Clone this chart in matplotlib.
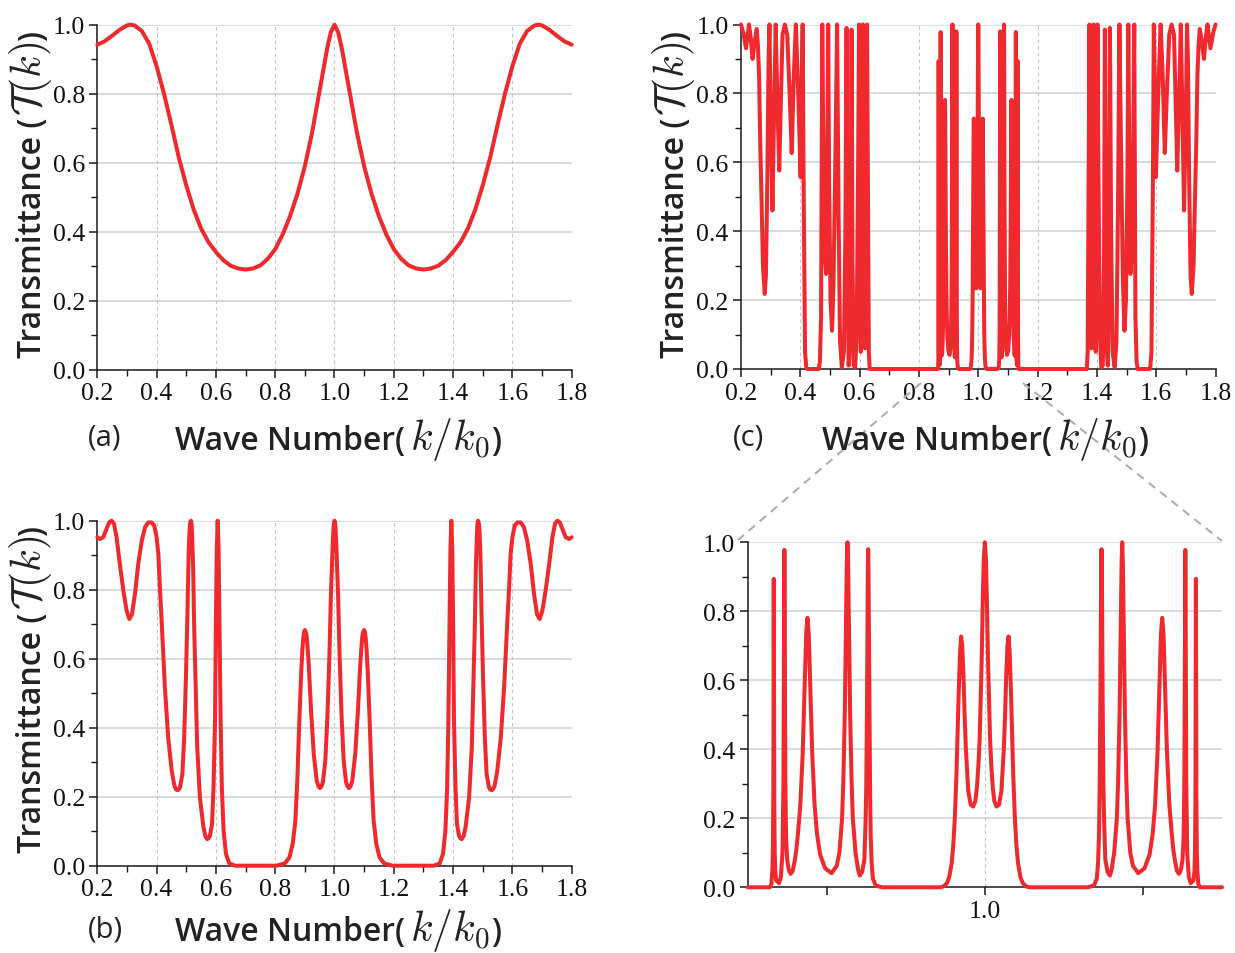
import matplotlib
matplotlib.use("Agg")
import matplotlib.pyplot as plt
from matplotlib.lines import Line2D
from matplotlib.ticker import FormatStrFormatter

plt.rcParams["mathtext.fontset"] = "cm"

# ---------------------------------------------------------------- data
# (a) single unit cell: (k/k0, T)
cell_a = [(0.200, 0.942), (0.225, 0.952), (0.250, 0.968), (0.275, 0.985), (0.300, 0.998),
          (0.310, 1.000), (0.325, 0.998), (0.350, 0.982), (0.375, 0.945), (0.400, 0.880),
          (0.425, 0.800), (0.450, 0.710), (0.475, 0.615), (0.500, 0.535), (0.525, 0.465),
          (0.550, 0.410), (0.575, 0.370), (0.600, 0.342), (0.625, 0.318), (0.650, 0.302),
          (0.675, 0.294), (0.700, 0.291), (0.725, 0.294), (0.750, 0.303), (0.775, 0.322),
          (0.800, 0.350), (0.825, 0.392), (0.850, 0.445), (0.875, 0.510), (0.900, 0.590),
          (0.925, 0.690), (0.950, 0.810), (0.975, 0.930), (0.9875, 0.978), (1.000, 1.000),
          (1.0125, 0.978), (1.025, 0.930), (1.050, 0.810), (1.075, 0.690), (1.100, 0.590),
          (1.125, 0.510), (1.150, 0.445), (1.175, 0.392), (1.200, 0.350), (1.225, 0.322),
          (1.250, 0.303), (1.275, 0.294), (1.300, 0.291), (1.325, 0.294), (1.350, 0.302),
          (1.375, 0.318), (1.400, 0.342), (1.425, 0.370), (1.450, 0.410), (1.475, 0.465),
          (1.500, 0.535), (1.525, 0.615), (1.550, 0.710), (1.575, 0.800), (1.600, 0.880),
          (1.625, 0.945), (1.650, 0.982), (1.675, 0.998), (1.690, 1.000), (1.700, 0.998),
          (1.725, 0.985), (1.750, 0.968), (1.775, 0.952), (1.800, 0.942)]

# (b) intermediate stack
stack_b = [(0.200, 0.952), (0.209, 0.947), (0.220, 0.952), (0.231, 0.976), (0.240, 0.995),
           (0.248, 1.000), (0.256, 0.992), (0.265, 0.952), (0.276, 0.874), (0.288, 0.797),
           (0.299, 0.739), (0.308, 0.715), (0.317, 0.729), (0.327, 0.787), (0.338, 0.874),
           (0.350, 0.942), (0.361, 0.981), (0.372, 0.995), (0.383, 0.995), (0.392, 0.986),
           (0.400, 0.952), (0.406, 0.903), (0.411, 0.807), (0.417, 0.710), (0.428, 0.517),
           (0.439, 0.372), (0.451, 0.275), (0.460, 0.232), (0.465, 0.222), (0.470, 0.219),
           (0.475, 0.221), (0.479, 0.227), (0.487, 0.266), (0.493, 0.372), (0.499, 0.546),
           (0.504, 0.729), (0.508, 0.903), (0.511, 0.970), (0.513, 0.992), (0.516, 1.000),
           (0.518, 0.990), (0.520, 0.950), (0.523, 0.874), (0.527, 0.681), (0.532, 0.507),
           (0.537, 0.343), (0.546, 0.198), (0.558, 0.111), (0.565, 0.085), (0.571, 0.077),
           (0.576, 0.080), (0.580, 0.087), (0.587, 0.121), (0.592, 0.227), (0.597, 0.420),
           (0.600, 0.710), (0.603, 0.920), (0.606, 1.000), (0.609, 0.920), (0.612, 0.710),
           (0.616, 0.420), (0.620, 0.227), (0.626, 0.101), (0.634, 0.034), (0.645, 0.007),
           (0.664, 0.000), (0.805, 0.000), (0.833, 0.007), (0.848, 0.024), (0.859, 0.063),
           (0.868, 0.130), (0.875, 0.256), (0.881, 0.411), (0.888, 0.565), (0.892, 0.630),
           (0.895, 0.662), (0.8975, 0.678), (0.900, 0.683), (0.903, 0.678), (0.906, 0.667),
           (0.909, 0.635), (0.913, 0.585), (0.921, 0.449), (0.930, 0.324), (0.940, 0.246),
           (0.946, 0.230), (0.951, 0.225), (0.956, 0.230), (0.961, 0.242), (0.969, 0.304),
           (0.976, 0.430), (0.983, 0.613), (0.988, 0.787), (0.994, 0.932), (0.997, 0.985),
           (1.000, 1.000),
           (1.003, 0.985), (1.006, 0.932), (1.012, 0.787), (1.017, 0.613), (1.024, 0.430),
           (1.031, 0.304), (1.039, 0.242), (1.044, 0.230), (1.049, 0.225), (1.054, 0.230),
           (1.060, 0.246), (1.070, 0.324), (1.079, 0.449), (1.087, 0.585), (1.091, 0.635),
           (1.094, 0.667), (1.097, 0.678), (1.100, 0.683), (1.1025, 0.678), (1.105, 0.662),
           (1.108, 0.630), (1.112, 0.565), (1.119, 0.411), (1.125, 0.256), (1.132, 0.130),
           (1.141, 0.063), (1.152, 0.024), (1.167, 0.007), (1.195, 0.000), (1.336, 0.000),
           (1.355, 0.007), (1.366, 0.034), (1.374, 0.101), (1.380, 0.227), (1.384, 0.420),
           (1.388, 0.710), (1.391, 0.920), (1.394, 1.000), (1.397, 0.920), (1.400, 0.710),
           (1.403, 0.420), (1.408, 0.227), (1.413, 0.121), (1.420, 0.087), (1.424, 0.080),
           (1.429, 0.077), (1.435, 0.085), (1.442, 0.111), (1.454, 0.198), (1.463, 0.343),
           (1.468, 0.507), (1.473, 0.681), (1.477, 0.874), (1.480, 0.950), (1.482, 0.990),
           (1.484, 1.000), (1.487, 0.992), (1.489, 0.970), (1.492, 0.903), (1.496, 0.729),
           (1.501, 0.546), (1.507, 0.372), (1.513, 0.266), (1.521, 0.227), (1.525, 0.221),
           (1.530, 0.219), (1.535, 0.222), (1.540, 0.232), (1.549, 0.275), (1.561, 0.372),
           (1.572, 0.517), (1.583, 0.710), (1.589, 0.807), (1.594, 0.903), (1.600, 0.952),
           (1.608, 0.986), (1.617, 0.995), (1.628, 0.995), (1.639, 0.981), (1.650, 0.942),
           (1.662, 0.874), (1.673, 0.787), (1.683, 0.729), (1.692, 0.715), (1.701, 0.739),
           (1.712, 0.797), (1.724, 0.874), (1.735, 0.952), (1.744, 0.992), (1.752, 1.000),
           (1.760, 0.995), (1.769, 0.976), (1.780, 0.952), (1.791, 0.947), (1.800, 0.952)]

# (c) long stack, low-k band
band_c_low = [(0.200, 1.000), (0.208, 0.975), (0.217, 0.931), (0.222, 0.965), (0.227, 1.000),
              (0.233, 0.960), (0.239, 0.900), (0.246, 0.950), (0.253, 0.987), (0.257, 0.940),
              (0.261, 0.852), (0.265, 0.650), (0.270, 0.465), (0.274, 0.300), (0.280, 0.218),
              (0.284, 0.271), (0.289, 0.561), (0.293, 0.900), (0.296, 1.000), (0.299, 0.800),
              (0.306, 0.460), (0.311, 0.720), (0.317, 1.000), (0.322, 0.800), (0.329, 0.576),
              (0.335, 0.800), (0.340, 0.970), (0.348, 1.000), (0.356, 0.970), (0.364, 0.800),
              (0.371, 0.627), (0.378, 0.850), (0.385, 1.000), (0.393, 0.800), (0.401, 0.557),
              (0.405, 0.850), (0.408, 1.000), (0.411, 0.550), (0.416, 0.050), (0.420, 0.005),
              (0.423, 0.000), (0.462, 0.000), (0.466, 0.020), (0.470, 0.150), (0.472, 0.600),
              (0.474, 1.000), (0.478, 0.600), (0.481, 0.350), (0.487, 0.276), (0.490, 0.500),
              (0.494, 1.000), (0.497, 0.550), (0.502, 0.200), (0.507, 0.111), (0.512, 0.250),
              (0.518, 0.600), (0.524, 1.000), (0.529, 0.450), (0.534, 0.080), (0.540, 0.005),
              (0.547, 0.050), (0.552, 0.400), (0.556, 0.990), (0.559, 0.300), (0.563, 0.010),
              (0.566, 0.050), (0.570, 0.500), (0.573, 0.985), (0.576, 0.300), (0.580, 0.010),
              (0.585, 0.005), (0.590, 0.100), (0.595, 0.600), (0.598, 1.000), (0.601, 0.400),
              (0.604, 0.050), (0.607, 0.500), (0.611, 1.000), (0.615, 0.400), (0.618, 0.060),
              (0.621, 0.500), (0.625, 1.000), (0.629, 0.350), (0.631, 0.050), (0.634, 0.000)]

# (c) central band around k/k0 = 1 (also shown magnified)
band_mid = [(0.8500, 0.000), (0.8640, 0.000), (0.8650, 0.010), (0.8656, 0.050), (0.8659, 0.100),
            (0.8662, 0.250), (0.8663, 0.450), (0.8664, 0.720), (0.8665, 0.894), (0.8666, 0.720),
            (0.8667, 0.450), (0.8668, 0.250), (0.8671, 0.100), (0.8674, 0.050), (0.8680, 0.020),
            (0.8698, 0.012), (0.8710, 0.030), (0.8714, 0.060), (0.8720, 0.100), (0.8723, 0.200),
            (0.8726, 0.300), (0.8728, 0.550), (0.8730, 0.800), (0.8732, 0.978), (0.8734, 0.800),
            (0.8736, 0.550), (0.8738, 0.320), (0.8741, 0.200), (0.8744, 0.130), (0.8750, 0.080),
            (0.8760, 0.050), (0.8772, 0.039), (0.8785, 0.048), (0.8798, 0.078), (0.8808, 0.110),
            (0.8818, 0.156), (0.8833, 0.240), (0.8848, 0.390), (0.8855, 0.500), (0.8863, 0.625),
            (0.8870, 0.735), (0.8878, 0.781), (0.8886, 0.735), (0.8893, 0.625), (0.8901, 0.500),
            (0.8908, 0.390), (0.8923, 0.240), (0.8938, 0.156), (0.8958, 0.095), (0.8990, 0.055),
            (0.9030, 0.041), (0.9063, 0.062), (0.9080, 0.100), (0.9097, 0.200), (0.9105, 0.310),
            (0.9114, 0.500), (0.9118, 0.640), (0.9123, 0.800), (0.9127, 0.941), (0.9131, 1.000),
            (0.9135, 0.941), (0.9139, 0.800), (0.9144, 0.640), (0.9148, 0.500), (0.9157, 0.310),
            (0.9165, 0.200), (0.9182, 0.100), (0.9199, 0.050), (0.9209, 0.034), (0.9224, 0.045),
            (0.9238, 0.080), (0.9246, 0.196), (0.9250, 0.300), (0.9254, 0.490), (0.9256, 0.627),
            (0.9258, 0.784), (0.9260, 0.922), (0.9262, 0.980), (0.9264, 0.922), (0.9266, 0.784),
            (0.9268, 0.627), (0.9270, 0.490), (0.9274, 0.280), (0.9278, 0.150), (0.9284, 0.070),
            (0.9292, 0.025), (0.9310, 0.005), (0.9350, 0.000), (0.9720, 0.000), (0.9740, 0.003),
            (0.9760, 0.012), (0.9775, 0.030), (0.9790, 0.070), (0.9800, 0.120), (0.9810, 0.200),
            (0.9820, 0.320), (0.9828, 0.450), (0.9835, 0.570), (0.9843, 0.680), (0.9850, 0.727),
            (0.9857, 0.700), (0.9865, 0.610), (0.9872, 0.500), (0.9880, 0.400), (0.9895, 0.280),
            (0.9910, 0.240), (0.9926, 0.234), (0.9940, 0.250), (0.9950, 0.290), (0.9960, 0.360),
            (0.9967, 0.430), (0.9973, 0.530), (0.9980, 0.660), (0.9987, 0.830), (0.9993, 0.950),
            (1.0000, 1.000),
            (1.0007, 0.950), (1.0013, 0.830), (1.0020, 0.660), (1.0027, 0.530), (1.0033, 0.430),
            (1.0040, 0.360), (1.0050, 0.290), (1.0060, 0.250), (1.0074, 0.234), (1.0090, 0.240),
            (1.0105, 0.280), (1.0120, 0.400), (1.0128, 0.500), (1.0135, 0.610), (1.0143, 0.700),
            (1.0150, 0.727), (1.0157, 0.680), (1.0165, 0.570), (1.0172, 0.450), (1.0180, 0.320),
            (1.0190, 0.200), (1.0200, 0.120), (1.0210, 0.070), (1.0225, 0.030), (1.0240, 0.012),
            (1.0260, 0.003), (1.0280, 0.000), (1.0650, 0.000), (1.0690, 0.005), (1.0708, 0.025),
            (1.0716, 0.070), (1.0722, 0.150), (1.0726, 0.280), (1.0730, 0.490), (1.0732, 0.627),
            (1.0734, 0.784), (1.0736, 0.922), (1.0738, 0.980), (1.0740, 0.922), (1.0742, 0.784),
            (1.0744, 0.627), (1.0746, 0.490), (1.0750, 0.300), (1.0754, 0.196), (1.0762, 0.080),
            (1.0776, 0.045), (1.0791, 0.034), (1.0801, 0.050), (1.0818, 0.100), (1.0835, 0.200),
            (1.0843, 0.310), (1.0852, 0.500), (1.0856, 0.640), (1.0861, 0.800), (1.0865, 0.941),
            (1.0869, 1.000), (1.0873, 0.941), (1.0877, 0.800), (1.0882, 0.640), (1.0886, 0.500),
            (1.0895, 0.310), (1.0903, 0.200), (1.0920, 0.100), (1.0937, 0.062), (1.0970, 0.041),
            (1.1010, 0.055), (1.1042, 0.095), (1.1062, 0.156), (1.1077, 0.240), (1.1092, 0.390),
            (1.1099, 0.500), (1.1107, 0.625), (1.1114, 0.735), (1.1122, 0.781), (1.1130, 0.735),
            (1.1137, 0.625), (1.1145, 0.500), (1.1152, 0.390), (1.1167, 0.240), (1.1182, 0.156),
            (1.1192, 0.110), (1.1202, 0.078), (1.1215, 0.048), (1.1228, 0.039), (1.1240, 0.050),
            (1.1250, 0.080), (1.1256, 0.130), (1.1259, 0.200), (1.1262, 0.320), (1.1264, 0.550),
            (1.1266, 0.800), (1.1268, 0.978), (1.1270, 0.800), (1.1272, 0.550), (1.1274, 0.300),
            (1.1277, 0.200), (1.1280, 0.100), (1.1286, 0.060), (1.1290, 0.030), (1.1302, 0.012),
            (1.1320, 0.020), (1.1326, 0.050), (1.1329, 0.100), (1.1332, 0.250), (1.1333, 0.450),
            (1.1334, 0.720), (1.1335, 0.894), (1.1336, 0.720), (1.1337, 0.450), (1.1338, 0.250),
            (1.1341, 0.100), (1.1344, 0.050), (1.1350, 0.010), (1.1360, 0.000), (1.1500, 0.000)]

# (c) long stack, high-k band
band_c_high = [(1.366, 0.000), (1.369, 0.050), (1.371, 0.350), (1.375, 1.000), (1.379, 0.500),
               (1.382, 0.060), (1.385, 0.400), (1.389, 1.000), (1.393, 0.500), (1.396, 0.050),
               (1.399, 0.400), (1.402, 1.000), (1.405, 0.600), (1.410, 0.100), (1.415, 0.005),
               (1.420, 0.010), (1.424, 0.300), (1.427, 0.985), (1.430, 0.500), (1.434, 0.050),
               (1.437, 0.010), (1.441, 0.300), (1.444, 0.990), (1.448, 0.400), (1.453, 0.050),
               (1.460, 0.005), (1.466, 0.080), (1.471, 0.450), (1.476, 1.000), (1.482, 0.600),
               (1.488, 0.250), (1.493, 0.111), (1.498, 0.200), (1.503, 0.550), (1.506, 1.000),
               (1.510, 0.500), (1.513, 0.276), (1.519, 0.350), (1.522, 0.600), (1.526, 1.000),
               (1.528, 0.600), (1.530, 0.150), (1.534, 0.020), (1.538, 0.000), (1.577, 0.000),
               (1.580, 0.005), (1.584, 0.050), (1.589, 0.550), (1.592, 1.000), (1.595, 0.850),
               (1.599, 0.557), (1.607, 0.800), (1.615, 1.000), (1.622, 0.850), (1.629, 0.627),
               (1.636, 0.800), (1.644, 0.970), (1.652, 1.000), (1.660, 0.970), (1.665, 0.800),
               (1.671, 0.576), (1.678, 0.800), (1.683, 1.000), (1.689, 0.720), (1.694, 0.460),
               (1.701, 0.800), (1.704, 1.000), (1.707, 0.900), (1.711, 0.561), (1.716, 0.271),
               (1.720, 0.218), (1.726, 0.300), (1.730, 0.465), (1.735, 0.650), (1.739, 0.852),
               (1.743, 0.940), (1.747, 0.987), (1.754, 0.950), (1.761, 0.900), (1.767, 0.960),
               (1.773, 1.000), (1.778, 0.965), (1.783, 0.931), (1.792, 0.975), (1.800, 1.000)]

wave_a, trans_a = zip(*cell_a)
wave_b, trans_b = zip(*stack_b)
wave_mid, trans_mid = zip(*band_mid)
wave_c, trans_c = zip(*(band_c_low + band_mid + band_c_high))

# ---------------------------------------------------------------- style
W, H = 1235, 954
RED = "#ee2a2f"
HGRID = "#cdd1d9"
VGRID = "#c4c4c4"
SERIF = ["Liberation Serif", "DejaVu Serif"]
SANS = ["Open Sans", "DejaVu Sans"]
TICK_SIZE = 18.5

fig = plt.figure(figsize=(W / 100, H / 100), dpi=100)


def px_axes(x0, y0, x1, y1):
    """Axes from pixel corners (origin at top-left)."""
    return fig.add_axes([x0 / W, 1 - y1 / H, (x1 - x0) / W, (y1 - y0) / H])


def style(ax, xlim, xmajor, xminor, vgrid, xlabels=None):
    ax.set_xlim(*xlim)
    ax.set_ylim(0, 1.0)
    for s in ("top", "right"):
        ax.spines[s].set_visible(False)
    for s in ("left", "bottom"):
        ax.spines[s].set_linewidth(1.1)
        ax.spines[s].set_color("#1a1a1a")
    ax.set_yticks([0.0, 0.2, 0.4, 0.6, 0.8, 1.0])
    ax.set_yticks([0.1, 0.3, 0.5, 0.7, 0.9], minor=True)
    ax.set_xticks(xmajor)
    if xminor:
        ax.set_xticks(xminor, minor=True)
    ax.yaxis.set_major_formatter(FormatStrFormatter("%.1f"))
    if xlabels is None:
        ax.xaxis.set_major_formatter(FormatStrFormatter("%.1f"))
    else:
        ax.set_xticklabels(xlabels)
    ax.tick_params(which="major", direction="out", length=5.5, width=1.1,
                   color="#1a1a1a", pad=3.5, labelsize=TICK_SIZE)
    ax.tick_params(which="minor", direction="out", length=4.5, width=1.0,
                   color="#1a1a1a")
    for lab in ax.get_xticklabels() + ax.get_yticklabels():
        lab.set_fontfamily(SERIF)
        lab.set_color("#111111")
    for yv in (0.2, 0.4, 0.6, 0.8, 1.0):
        ax.axhline(yv, color=HGRID, lw=1.1, zorder=0.5)
    for xv in vgrid:
        ax.axvline(xv, color=VGRID, lw=0.8, ls=(0, (3, 3)), zorder=0.5)


MAJ = [0.2, 0.4, 0.6, 0.8, 1.0, 1.2, 1.4, 1.6, 1.8]
MIN = [0.3, 0.5, 0.7, 0.9, 1.1, 1.3, 1.5, 1.7]
VG = [0.4, 0.6, 0.8, 1.0, 1.2, 1.4, 1.6]

ax_a = px_axes(97.3, 25.7, 571.7, 371.0)
ax_b = px_axes(97.3, 521.7, 571.7, 866.7)
ax_c = px_axes(741.0, 25.5, 1215.5, 370.0)
ax_z = px_axes(747.7, 543.3, 1222.0, 888.3)

LINE_KW = dict(color=RED, lw=2.9, solid_joinstyle="round", solid_capstyle="round",
               clip_on=False, zorder=3)

for ax, k, t in ((ax_a, wave_a, trans_a), (ax_b, wave_b, trans_b),
                 (ax_c, wave_c, trans_c)):
    style(ax, (0.2, 1.8), MAJ, MIN, VG)
    ax.plot(k, t, **LINE_KW)

style(ax_z, (0.85, 1.15), [0.9, 1.0, 1.1], None, [1.0], xlabels=["", "1.0", ""])
ax_z.plot(wave_mid, trans_mid, **LINE_KW)

# dashed guides from panel (c) to the magnified view
for (x0, y0), (x1, y1) in (((921, 384), (738, 541)), ((1023, 384), (1222, 542))):
    fig.add_artist(Line2D([x0 / W, x1 / W], [1 - y0 / H, 1 - y1 / H],
                          transform=fig.transFigure, color="#a9b0bb", lw=1.5,
                          ls=(0, (4, 3))))

# ---------------------------------------------------------------- labels
renderer = fig.canvas.get_renderer()
SANS_KW = dict(family=SANS, fontsize=23, weight="semibold", color="#222222")
MATH_KW = dict(fontsize=30, color="#222222")


def chain(pieces, x, y, rotation=0):
    """Lay text pieces end to end; (x, y) in pixels from the top-left."""
    x, y = x, H - y
    for text, kw, gap in pieces:
        if rotation:
            y += gap
        else:
            x += gap
        t = fig.text(x / W, y / H, text, rotation=rotation,
                     rotation_mode="anchor", ha="left", va="baseline", **kw)
        bb = t.get_window_extent(renderer)
        if rotation:
            y = bb.y1
        else:
            x = bb.x1


xlabel = [("Wave Number(", SANS_KW, 0), (r"$k/k_0$", MATH_KW, 5), (")", SANS_KW, 1)]
ylabel = [("Transmittance (", SANS_KW, 0), (r"$\mathcal{T}(k)$", MATH_KW, 2),
          (")", SANS_KW, 0)]

chain(xlabel, 175, 450)
chain(xlabel, 175, 941)
chain(xlabel, 822, 450)
chain(ylabel, 41, 358, rotation=90)
chain(ylabel, 41, 853, rotation=90)
chain(ylabel, 684, 358, rotation=90)

PANEL_KW = dict(family=SANS, fontsize=21, color="#222222", ha="left", va="baseline")
fig.text(88 / W, 1 - 446 / H, "(a)", **PANEL_KW)
fig.text(88 / W, 1 - 938 / H, "(b)", **PANEL_KW)
fig.text(733 / W, 1 - 446 / H, "(c)", **PANEL_KW)

fig.savefig("out.png", dpi=100)
